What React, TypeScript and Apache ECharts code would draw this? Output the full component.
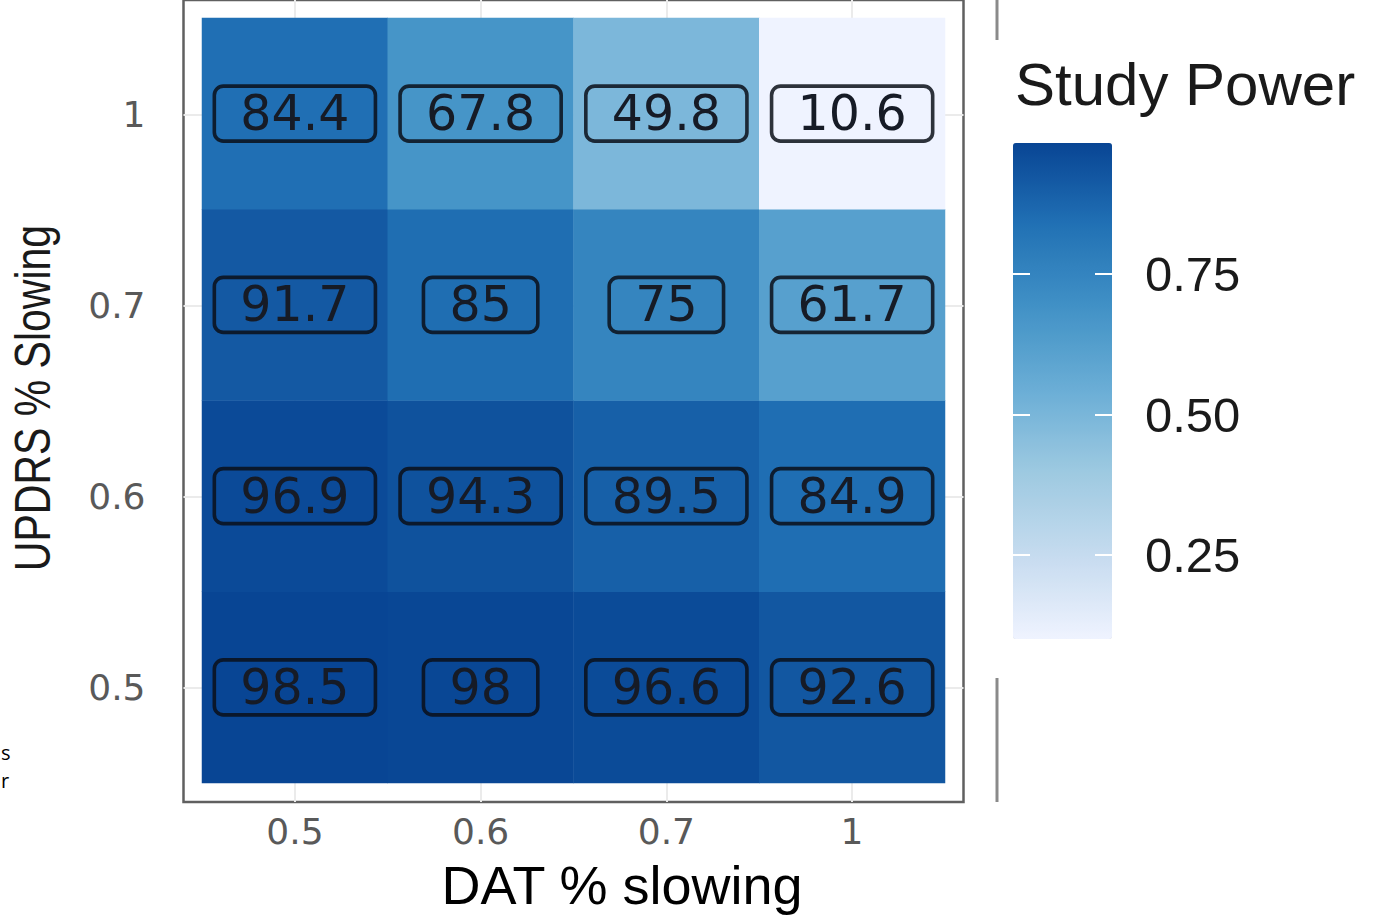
import React, { useEffect, useRef } from "react";
import * as echarts from "echarts";

// DAT % slowing (x, discrete) and UPDRS % slowing (y, discrete, bottom to top)
const xLabels = ["0.5", "0.6", "0.7", "1"];
const yLabels = ["0.5", "0.6", "0.7", "1"];

// Study power (%) per row, columns follow xLabels
const powerUpdrs05 = [98.5, 98, 96.6, 92.6];
const powerUpdrs06 = [96.9, 94.3, 89.5, 84.9];
const powerUpdrs07 = [91.7, 85, 75, 61.7];
const powerUpdrs10 = [84.4, 67.8, 49.8, 10.6];
const powerRows = [powerUpdrs05, powerUpdrs06, powerUpdrs07, powerUpdrs10];

// legend
const legendTicks = [0.25, 0.5, 0.75];
const bluesPalette = ["#EFF3FF", "#C6DBEF", "#9ECAE1", "#6BAED6", "#4292C6", "#2171B5", "#084594"];

const xTitle = "DAT % slowing";
const yTitle = "UPDRS % Slowing";
const legendTitle = "Study Power";

export default function App() {
  const ref = useRef<HTMLDivElement>(null);

  useEffect(() => {
    if (!ref.current) return;
    const chart = echarts.init(ref.current, undefined, { renderer: "svg" });

    const heatData: any[] = [];
    powerRows.forEach((row, yi) =>
      row.forEach((v, xi) => heatData.push([xi, yi, v / 100, v]))
    );
    const all = powerRows.flat().map((v) => v / 100);
    const vMin = Math.min(...all);
    const vMax = Math.max(...all);
    const idx = xLabels.map((_, i) => i);

    const tickFont = { fontFamily: "DejaVu Sans", fontSize: 36, color: "#595959" };

    chart.setOption({
      animation: false,
      backgroundColor: "#ffffff",
      grid: [
        { left: 202, top: 18, width: 743, height: 765, show: false },
        {
          left: 183.5,
          top: -1,
          width: 780,
          height: 803,
          show: true,
          borderColor: "#606060",
          borderWidth: 2.5,
          backgroundColor: "transparent",
          z: 0,
        },
        { left: 1013, top: 142, width: 99, height: 494, show: false },
      ],
      xAxis: [
        { gridIndex: 0, type: "category", data: xLabels, show: false },
        {
          gridIndex: 1,
          type: "value",
          min: -0.6,
          max: 3.6,
          axisLine: { show: false },
          axisTick: {
            show: true,
            customValues: idx,
            length: 11,
            lineStyle: { color: "#333333", width: 2.5 },
          },
          axisLabel: {
            show: true,
            customValues: idx,
            formatter: (v: number) => xLabels[Math.round(v)] ?? "",
            margin: 11,
            ...tickFont,
          },
          splitLine: { show: true, lineStyle: { color: "#ebebeb", width: 2 } },
        },
        { gridIndex: 2, type: "value", show: false, min: 0, max: 1 },
      ],
      yAxis: [
        { gridIndex: 0, type: "category", data: yLabels, show: false },
        {
          gridIndex: 1,
          type: "value",
          min: -0.6,
          max: 3.6,
          axisLine: { show: false },
          axisTick: {
            show: true,
            customValues: idx,
            length: 15,
            lineStyle: { color: "#333333", width: 2.5 },
          },
          axisLabel: {
            show: true,
            customValues: idx,
            formatter: (v: number) => yLabels[Math.round(v)] ?? "",
            margin: 38,
            ...tickFont,
          },
          splitLine: { show: true, lineStyle: { color: "#ebebeb", width: 2 } },
        },
        {
          gridIndex: 2,
          type: "value",
          position: "left",
          min: vMin,
          max: vMax,
          z: 10,
          axisLine: { show: false },
          splitLine: { show: false },
          axisTick: {
            show: true,
            inside: true,
            length: 17,
            customValues: legendTicks,
            lineStyle: { color: "#ffffff", width: 2 },
          },
          axisLabel: { show: false },
        },
        {
          gridIndex: 2,
          type: "value",
          position: "right",
          min: vMin,
          max: vMax,
          z: 10,
          axisLine: { show: false },
          splitLine: { show: false },
          axisTick: {
            show: true,
            inside: true,
            length: 17,
            customValues: legendTicks,
            lineStyle: { color: "#ffffff", width: 2 },
          },
          axisLabel: {
            show: true,
            customValues: legendTicks,
            formatter: (v: number) => v.toFixed(2),
            margin: 33,
            fontFamily: "Liberation Sans",
            fontSize: 49,
            color: "#1a1a1a",
          },
        },
      ],
      visualMap: {
        type: "continuous",
        seriesIndex: 0,
        dimension: 2,
        min: vMin,
        max: vMax,
        orient: "vertical",
        left: 1013,
        top: 143,
        itemWidth: 99,
        itemHeight: 496,
        padding: 0,
        calculable: false,
        hoverLink: false,
        inRange: { color: bluesPalette },
      },
      series: [
        {
          type: "heatmap",
          xAxisIndex: 0,
          yAxisIndex: 0,
          data: heatData,
          itemStyle: { borderWidth: 0 },
          label: {
            show: true,
            formatter: (p: any) => String(p.data[3]),
            fontFamily: "DejaVu Sans",
            fontSize: 49,
            lineHeight: 49,
            color: "#161b26",
            borderColor: "rgba(10,15,25,0.85)",
            borderWidth: 1.8,
            borderRadius: 9,
            padding: [3, 26],
            backgroundColor: "transparent",
          },
          emphasis: { disabled: true },
        },
      ],
      graphic: [
        {
          type: "text",
          x: 33,
          y: 398,
          rotation: Math.PI / 2,
          scaleX: 0.82,
          style: {
            text: yTitle,
            fontFamily: "Liberation Sans",
            fontSize: 50,
            fill: "#1a1a1a",
            align: "center",
            verticalAlign: "middle",
          },
        },
        {
          type: "text",
          x: 622,
          y: 885,
          style: {
            text: xTitle,
            fontFamily: "Liberation Sans",
            fontSize: 54,
            fill: "#000000",
            align: "center",
            verticalAlign: "middle",
          },
        },
        {
          type: "text",
          x: 1015,
          y: 84,
          style: {
            text: legendTitle,
            fontFamily: "Liberation Sans",
            fontSize: 60,
            fill: "#1a1a1a",
            align: "left",
            verticalAlign: "middle",
          },
        },
        {
          type: "line",
          shape: { x1: 997, y1: 0, x2: 997, y2: 40 },
          style: { stroke: "#8a8a8a", lineWidth: 3 },
        },
        {
          type: "line",
          shape: { x1: 997, y1: 678, x2: 997, y2: 802 },
          style: { stroke: "#8a8a8a", lineWidth: 3 },
        },
        {
          type: "text",
          x: 1,
          y: 752,
          style: { text: "s", fontFamily: "Open Sans", fontSize: 20, fill: "#000", align: "left", verticalAlign: "middle" },
        },
        {
          type: "text",
          x: 1,
          y: 780,
          style: { text: "r", fontFamily: "Open Sans", fontSize: 20, fill: "#000", align: "left", verticalAlign: "middle" },
        },
      ],
    });

    return () => chart.dispose();
  }, []);

  return (
    <div
      ref={ref}
      style={{ position: "absolute", left: 0, top: 0, width: 1375, height: 916 }}
    />
  );
}
